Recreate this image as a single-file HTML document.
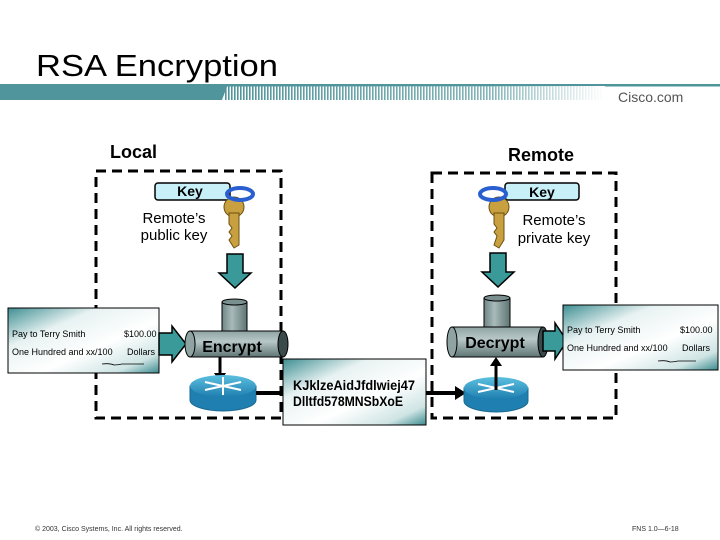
<!DOCTYPE html>
<html><head><meta charset="utf-8"><style>
html,body{margin:0;padding:0;background:#fff}
svg{display:block}
text{font-family:"Liberation Sans",sans-serif}
</style></head><body>
<svg width="720" height="540" viewBox="0 0 720 540" xmlns="http://www.w3.org/2000/svg">
<defs>
<pattern id="hatch" width="3" height="20" patternUnits="userSpaceOnUse"><rect width="1.6" height="20" fill="#4f959b"/></pattern>
<linearGradient id="fade" x1="0" x2="1" y1="0" y2="0"><stop offset="0" stop-color="#fff" stop-opacity="0"/><stop offset="0.7" stop-color="#fff" stop-opacity="0.3"/><stop offset="1" stop-color="#fff" stop-opacity="1"/></linearGradient>
<linearGradient id="chk" x1="0" y1="0" x2="1" y2="1"><stop offset="0" stop-color="#3f8f93"/><stop offset="0.3" stop-color="#e8f2f2"/><stop offset="0.6" stop-color="#ffffff"/><stop offset="0.85" stop-color="#cfe4e4"/><stop offset="1" stop-color="#3a8a8e"/></linearGradient>
<linearGradient id="pipe" x1="0" y1="0" x2="0" y2="1"><stop offset="0" stop-color="#8fa3a3"/><stop offset="0.4" stop-color="#b8c8c8"/><stop offset="1" stop-color="#5f7474"/></linearGradient>
<linearGradient id="vpipe" x1="0" y1="0" x2="1" y2="0"><stop offset="0" stop-color="#6f8585"/><stop offset="0.4" stop-color="#a8baba"/><stop offset="1" stop-color="#5f7474"/></linearGradient>
<linearGradient id="rt" x1="0" y1="0" x2="0" y2="1"><stop offset="0" stop-color="#5cc0e0"/><stop offset="1" stop-color="#1f7fb0"/></linearGradient>
</defs>

<text x="36" y="76" font-size="31" fill="#000" textLength="242" lengthAdjust="spacingAndGlyphs">RSA Encryption</text>
<rect x="0" y="84" width="720" height="2.5" fill="#4f959b"/>
<polygon points="0,84 228,84 222,100 0,100" fill="#4f959b"/>
<rect x="225" y="86" width="380" height="14" fill="url(#hatch)"/>
<rect x="225" y="86" width="380" height="14" fill="url(#fade)"/>
<text x="618" y="102" font-size="14" fill="#555">Cisco.com</text>

<text x="110" y="158" font-size="18" font-weight="bold">Local</text>
<text x="508" y="161" font-size="18" font-weight="bold">Remote</text>

<rect x="96" y="171" width="185" height="247" fill="none" stroke="#000" stroke-width="3" stroke-dasharray="10,6"/>
<rect x="432" y="173" width="184" height="245" fill="none" stroke="#000" stroke-width="3" stroke-dasharray="10,6"/>

<!-- left key -->
<rect x="155" y="183" width="75" height="17" rx="3" fill="#c8f0f8" stroke="#000" stroke-width="1.5"/>
<text x="190" y="196" font-size="14" font-weight="bold" text-anchor="middle">Key</text>
<circle cx="234" cy="207" r="10" fill="#c8a040" stroke="#6a5010"/>
<polygon points="229,213 239,213 239,245 234,248 229,240 232,236 229,232 232,228 229,224" fill="#c8a040" stroke="#6a5010"/>
<ellipse cx="240" cy="194" rx="13" ry="6" fill="none" stroke="#2a5fd0" stroke-width="4"/>
<text x="174" y="223" font-size="15" text-anchor="middle">Remote’s</text>
<text x="174" y="240" font-size="15" text-anchor="middle">public key</text>
<polygon points="227,254 243,254 243,273 251,273 235,288 219,273 227,273" fill="#3a9a9a" stroke="#000" stroke-width="1.5"/>

<!-- right key -->
<rect x="505" y="183" width="74" height="17" rx="3" fill="#c8f0f8" stroke="#000" stroke-width="1.5"/>
<text x="542" y="197" font-size="14" font-weight="bold" text-anchor="middle">Key</text>
<circle cx="499" cy="207" r="10" fill="#c8a040" stroke="#6a5010"/>
<polygon points="494,213 504,213 504,240 499,248 494,245 497,236 494,232 497,228 494,224" fill="#c8a040" stroke="#6a5010"/>
<ellipse cx="493" cy="194" rx="13" ry="6" fill="none" stroke="#2a5fd0" stroke-width="4"/>
<text x="554" y="225" font-size="15" text-anchor="middle">Remote’s</text>
<text x="554" y="243" font-size="15" text-anchor="middle">private key</text>
<polygon points="490,253 506,253 506,272 514,272 498,287 482,272 490,272" fill="#3a9a9a" stroke="#000" stroke-width="1.5"/>

<!-- left check -->
<rect x="8" y="308" width="151" height="65" fill="url(#chk)" stroke="#000"/>
<text x="12" y="337" font-size="9">Pay to Terry Smith</text>
<text x="124" y="337" font-size="9">$100.00</text>
<text x="12" y="355" font-size="9">One Hundred and xx/100</text>
<text x="127" y="355" font-size="9">Dollars</text>
<path d="M102,364 q8,-1 12,1 q4,0 8,-1 h22" stroke="#000" fill="none" stroke-width="0.8"/>
<polygon points="159,333 172,333 172,326 186,344 172,362 172,355 159,355" fill="#3a9a9a" stroke="#000" stroke-width="1.5"/>

<!-- encrypt pipe -->
<rect x="222" y="302" width="25" height="30" fill="url(#vpipe)" stroke="#000"/>
<ellipse cx="234.5" cy="302" rx="12.5" ry="3" fill="#7a9090" stroke="#000"/>
<rect x="190" y="331" width="93" height="26" fill="url(#pipe)" stroke="#000"/>
<ellipse cx="190" cy="344" rx="5" ry="13" fill="#8fa3a3" stroke="#000"/>
<ellipse cx="283" cy="344" rx="5" ry="13" fill="#3a4a4a" stroke="#000"/>
<text x="232" y="352" font-size="16" font-weight="bold" text-anchor="middle">Encrypt</text>
<line x1="220" y1="357" x2="220" y2="375" stroke="#000" stroke-width="3"/>
<polygon points="214,373 226,373 220,382" fill="#000"/>

<!-- left router -->
<path d="M190,386 v14 a33,11 0 0 0 66,0 v-14 z" fill="#1f7fb0" stroke="#1a6a90"/>
<ellipse cx="223" cy="386" rx="33" ry="11" fill="url(#rt)"/>
<path d="M205,382 l36,8 M205,390 l36,-8 M223,377 v18" stroke="#fff" stroke-width="2"/>
<line x1="256" y1="393" x2="284" y2="393" stroke="#000" stroke-width="4"/>

<!-- cipher -->
<rect x="283" y="359" width="143" height="66" fill="url(#chk)" stroke="#000"/>
<text x="293" y="390" font-size="14" font-weight="bold" textLength="122" lengthAdjust="spacingAndGlyphs">KJklzeAidJfdlwiej47</text>
<text x="293" y="406" font-size="14" font-weight="bold" textLength="110" lengthAdjust="spacingAndGlyphs">Dlltfd578MNSbXoE</text>
<line x1="426" y1="393" x2="456" y2="393" stroke="#000" stroke-width="4"/>
<polygon points="455,386 466,393 455,400" fill="#000"/>

<!-- right router -->
<path d="M464,388 v13 a32,11 0 0 0 64,0 v-13 z" fill="#1f7fb0" stroke="#1a6a90"/>
<ellipse cx="496" cy="388" rx="32" ry="11" fill="url(#rt)"/>
<path d="M478,384 l36,8 M478,392 l36,-8" stroke="#fff" stroke-width="2"/>
<line x1="496" y1="390" x2="496" y2="364" stroke="#000" stroke-width="3"/>
<polygon points="490,366 502,366 496,357" fill="#000"/>

<!-- decrypt pipe -->
<rect x="484" y="298" width="26" height="30" fill="url(#vpipe)" stroke="#000"/>
<ellipse cx="497" cy="298" rx="13" ry="3" fill="#7a9090" stroke="#000"/>
<rect x="452" y="327" width="91" height="30" fill="url(#pipe)" stroke="#000"/>
<ellipse cx="452" cy="342" rx="5" ry="15" fill="#8fa3a3" stroke="#000"/>
<ellipse cx="543" cy="342" rx="5" ry="15" fill="#3a4a4a" stroke="#000"/>
<text x="495" y="348" font-size="16" font-weight="bold" text-anchor="middle">Decrypt</text>
<polygon points="543,331 555,331 555,323 567,341 555,359 555,351 543,351" fill="#3a9a9a" stroke="#000" stroke-width="1.5"/>

<!-- right check -->
<rect x="563" y="305" width="155" height="65" fill="url(#chk)" stroke="#000"/>
<text x="567" y="333" font-size="9">Pay to Terry Smith</text>
<text x="680" y="333" font-size="9">$100.00</text>
<text x="567" y="351" font-size="9">One Hundred and xx/100</text>
<text x="682" y="351" font-size="9">Dollars</text>
<path d="M658,361 q8,-1 12,1 q4,0 8,-1 h18" stroke="#000" fill="none" stroke-width="0.8"/>

<text x="35" y="531" font-size="7" fill="#333">© 2003, Cisco Systems, Inc. All rights reserved.</text>
<text x="632" y="531" font-size="7" fill="#333">FNS 1.0—6-18</text>
</svg>
</body></html>
